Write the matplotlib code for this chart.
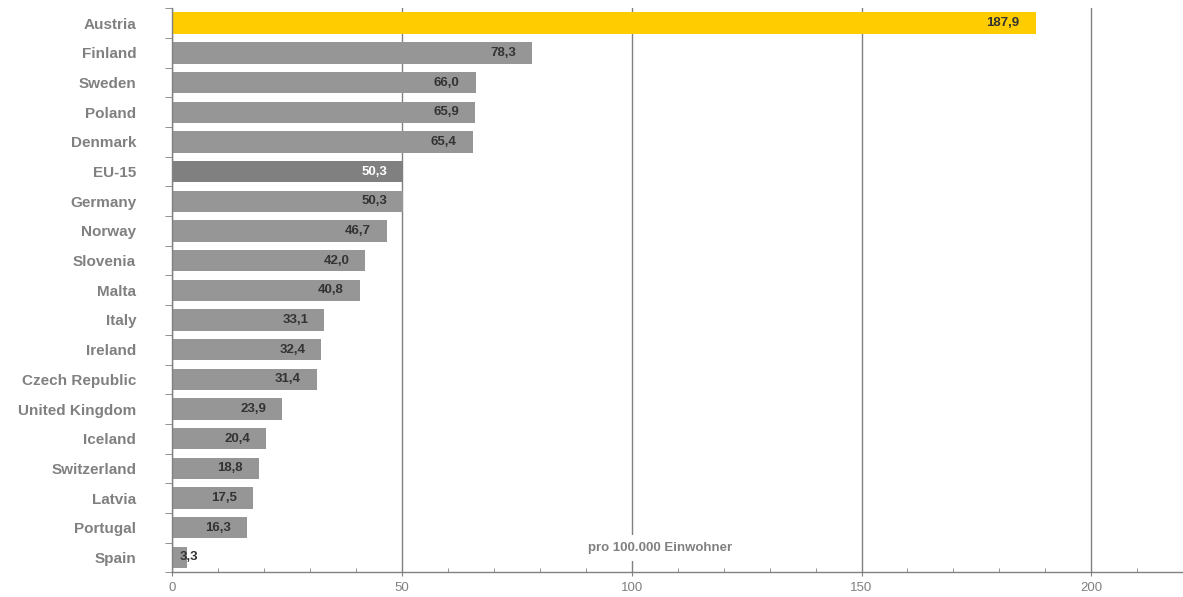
import matplotlib
matplotlib.use('Agg')
import matplotlib.pyplot as plt
from matplotlib.ticker import MultipleLocator, FixedLocator
from matplotlib.transforms import offset_copy

countries = ['Austria', 'Finland', 'Sweden', 'Poland', 'Denmark', 'EU-15', 'Germany',
             'Norway', 'Slovenia', 'Malta', 'Italy', 'Ireland', 'Czech Republic',
             'United Kingdom', 'Iceland', 'Switzerland', 'Latvia', 'Portugal', 'Spain']
values = [187.9, 78.3, 66.0, 65.9, 65.4, 50.3, 50.3, 46.7, 42.0, 40.8, 33.1, 32.4,
          31.4, 23.9, 20.4, 18.8, 17.5, 16.3, 3.3]
highlight = 'Austria'
reference = 'EU-15'
x_major_ticks = [0, 50, 100, 150, 200]
unit_label = 'pro 100.000 Einwohner'

plt.rcParams['font.family'] = ['Liberation Sans', 'DejaVu Sans']

W, H = 1183, 597
fig = plt.figure(figsize=(W / 100, H / 100), dpi=100)
left_px, right_px, top_px, bottom_px = 172.3, 1183.2, 8.3, 572.3
ax = fig.add_axes([left_px / W, 1 - bottom_px / H, (right_px - left_px) / W, (bottom_px - top_px) / H])

bar_color = '#969696'
ref_color = '#808080'
hi_color = '#FFCC00'
colors = [hi_color if c == highlight else ref_color if c == reference else bar_color for c in countries]

ypos = list(range(len(countries)))
ax.barh(ypos, values, height=0.72, color=colors, zorder=3)
ax.set_ylim(len(countries) - 0.5, -0.5)
ax.set_xlim(0, 220)

grey = '#808080'
ax.xaxis.set_major_locator(FixedLocator(x_major_ticks))
ax.xaxis.set_minor_locator(MultipleLocator(10))
ax.grid(axis='x', which='major', color=grey, linewidth=1.0, zorder=1)
ax.set_axisbelow(True)

for s in ['top', 'right']:
    ax.spines[s].set_visible(False)
for s in ['left', 'bottom']:
    ax.spines[s].set_color(grey)
    ax.spines[s].set_linewidth(1.0)
    ax.spines[s].set_zorder(4)

ax.tick_params(axis='x', which='major', direction='out', length=3, color=grey,
               labelsize=9.5, labelcolor=grey, pad=4)
ax.tick_params(axis='x', which='minor', direction='in', length=3, color=grey)

ax.set_yticks(ypos)
ax.set_yticklabels(countries)
ax.set_yticks([i - 0.5 for i in range(len(countries) + 1)], minor=True)
ax.tick_params(axis='y', which='major', length=0, pad=26, labelsize=11, labelcolor=grey)
ax.tick_params(axis='y', which='minor', direction='out', length=5, color=grey)
for lbl in ax.get_yticklabels():
    lbl.set_fontweight('bold')

for i, (c, v) in enumerate(zip(countries, values)):
    txt = f'{v:.1f}'.replace('.', ',')
    tcolor = 'white' if c == reference else '#333333'
    if v < 8:
        tr = offset_copy(ax.transData, fig=fig, x=7, y=0, units='dots')
        ax.text(0, i, txt, transform=tr, ha='left', va='center', fontsize=9.5,
                fontweight='bold', color=tcolor, zorder=5)
    else:
        tr = offset_copy(ax.transData, fig=fig, x=-16, y=0, units='dots')
        ax.text(v, i, txt, transform=tr, ha='right', va='center', fontsize=9.5,
                fontweight='bold', color=tcolor, zorder=5)

ax.text(90.5, 17.68, unit_label, ha='left', va='center', fontsize=9.5, fontweight='bold',
        color=grey, zorder=4, bbox=dict(facecolor='white', edgecolor='none', pad=5))

fig.savefig('out.png', dpi=100)
